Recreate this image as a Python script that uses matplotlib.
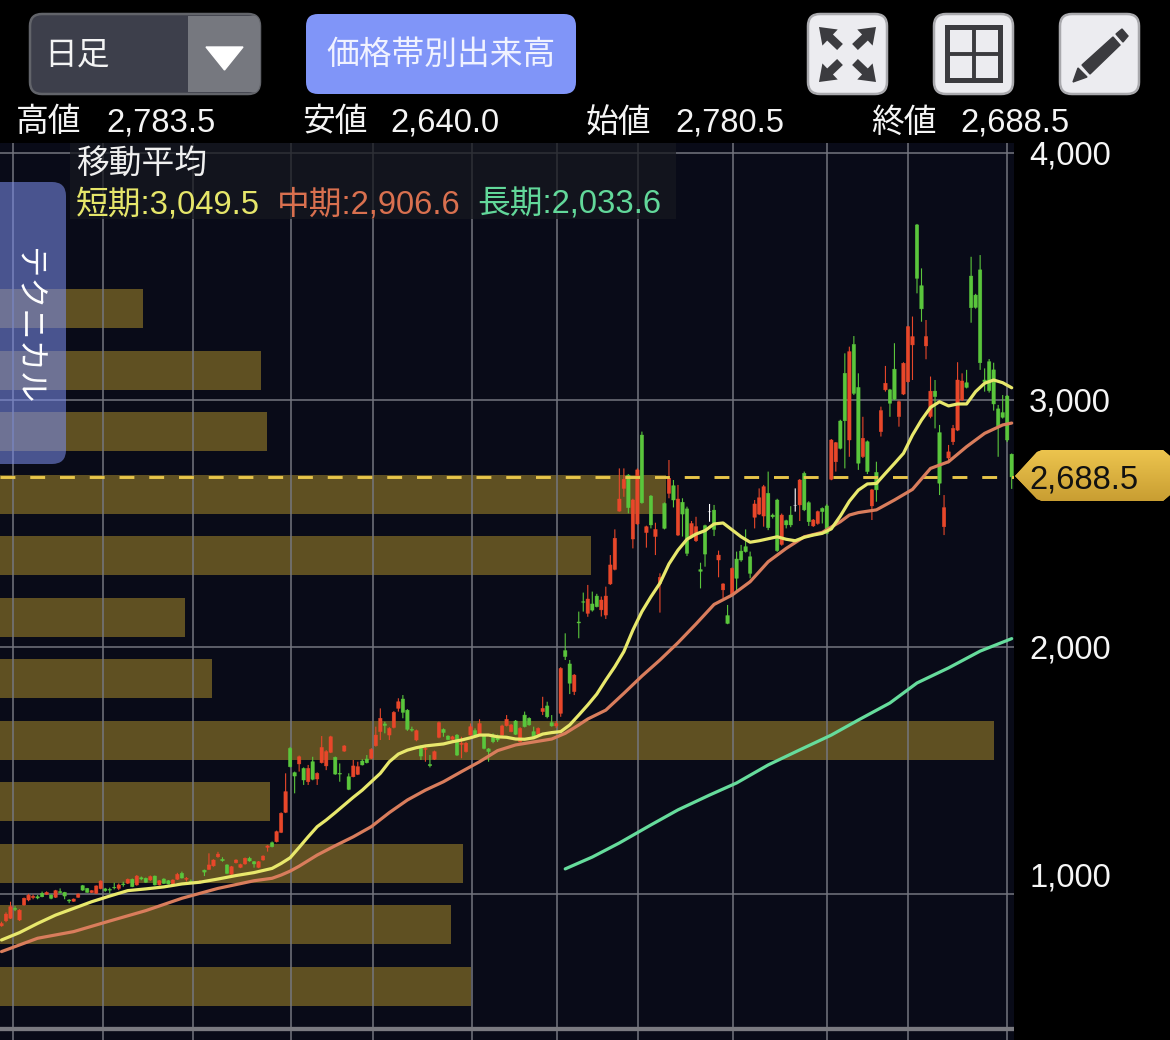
import numpy as np
import matplotlib
matplotlib.use('Agg')
import matplotlib.pyplot as plt
from matplotlib.patches import FancyBboxPatch, Polygon, Rectangle

plt.rcParams['font.family'] = ['Liberation Sans', 'Noto Sans CJK JP', 'DejaVu Sans']

# ---- daily candles ----
opens = [870,891,901,941,894,955,975,985,988,1002,
 998,995,986,1009,1006,975,970,986,1033,1022,
 1005,1002,1021,1020,1018,1026,1022,1040,1043,1059,
 1036,1065,1063,1056,1072,1036,1060,1053,1040,1059,
 1083,1059,1051,1044,1046,1096,1099,1113,1150,1140,
 1117,1079,1126,1107,1121,1144,1130,1107,1137,1188,
 1207,1211,1249,1330,1589,1491,1526,1508,1454,1535,
 1465,1531,1518,1573,1553,1488,1578,1474,1474,1484,
 1538,1546,1549,1600,1657,1688,1643,1674,1751,1789,
 1744,1666,1623,1589,1585,1524,1545,1634,1666,1639,
 1626,1643,1605,1576,1643,1661,1643,1643,1587,1643,
 1639,1643,1681,1657,1700,1616,1724,1711,1657,1647,
 1738,1761,1693,1680,1731,1985,1931,1819,2101,2183,
 2136,2174,2206,2150,2129,2255,2314,2550,2642,2696,
 2437,2498,2858,2463,2611,2447,2257,2581,2622,2653,
 2453,2586,2559,2446,2430,2313,2491,2547,2554,2352,
 2231,2127,2210,2356,2388,2406,2365,2525,2538,2530,
 2622,2534,2595,2415,2511,2534,2574,2575,2703,2584,
 2490,2500,2561,2571,2679,2750,2915,3108,2838,3225,
 3051,2771,2831,2571,2707,2872,3041,3041,3125,2933,
 3024,3074,3223,3709,3463,3219,2933,3036,2868,2487,
 2765,2831,2878,3000,3070,3502,3425,3527,3081,3155,
 3122,2964,2949,3016,2780.5]
closes = [880,918,948,937,934,982,995,990,983,988,
 1006,982,1013,1005,991,971,979,999,1015,1006,
 1013,1032,1052,1013,1015,1024,1036,1037,1059,1029,
 1072,1060,1047,1070,1036,1053,1042,1040,1056,1079,
 1064,1063,1049,1047,1049,1088,1117,1137,1161,1134,
 1083,1110,1137,1119,1144,1133,1121,1130,1153,1194,
 1191,1252,1326,1414,1515,1477,1555,1461,1508,1464,
 1488,1593,1576,1636,1485,1485,1599,1423,1518,1515,
 1522,1531,1585,1643,1711,1682,1670,1735,1778,1735,
 1666,1663,1661,1558,1589,1519,1576,1693,1653,1625,
 1636,1562,1610,1610,1677,1643,1690,1589,1576,1616,
 1623,1680,1707,1684,1646,1670,1677,1684,1636,1670,
 1751,1717,1680,1690,1913,1961,1853,1886,2097,2181,
 2194,2149,2163,2190,2206,2332,2440,2599,2679,2564,
 2595,2717,2584,2487,2494,2476,2282,2480,2683,2595,
 2599,2538,2379,2500,2487,2306,2376,2547,2476,2372,
 2255,2095,2318,2278,2352,2386,2298,2579,2604,2649,
 2483,2527,2390,2534,2494,2494,2574,2676,2555,2507,
 2514,2548,2548,2460,2838,2827,2804,2916,3196,3027,
 2744,2845,2710,2636,2636,2957,3068,2987,3003,2993,
 3149,3297,3257,3493,3369,3257,3036,3014,2663,2564,
 2790,2885,3081,3077,3051,3374,3375,3151,3074,3038,
 2984,2895,2930,2838,2688.5]
highs = [887,925,968,950,938,985,1000,997,995,1009,
 1010,998,1016,1022,1008,978,981,1002,1036,1024,
 1015,1034,1055,1024,1025,1045,1042,1049,1062,1062,
 1076,1070,1066,1074,1074,1056,1063,1056,1059,1085,
 1090,1068,1058,1052,1056,1098,1164,1140,1170,1148,
 1120,1113,1140,1122,1147,1150,1133,1133,1156,1197,
 1212,1256,1330,1488,1595,1495,1560,1512,1522,1555,
 1492,1639,1582,1640,1556,1528,1602,1488,1542,1535,
 1545,1562,1590,1677,1751,1697,1675,1740,1792,1805,
 1748,1677,1665,1603,1595,1562,1580,1698,1670,1642,
 1640,1647,1636,1615,1690,1670,1707,1647,1590,1650,
 1645,1685,1724,1688,1704,1675,1738,1715,1677,1674,
 1798,1778,1724,1700,1918,2055,1947,1890,2143,2220,
 2251,2224,2215,2204,2244,2372,2476,2723,2723,2700,
 2600,2723,2872,2491,2615,2503,2298,2585,2757,2676,
 2656,2602,2568,2510,2527,2341,2495,2579,2575,2390,
 2258,2170,2322,2386,2413,2476,2386,2595,2642,2656,
 2710,2540,2600,2540,2515,2570,2642,2680,2710,2590,
 2518,2552,2565,2578,2842,2830,2920,3189,3216,3259,
 3108,2932,2836,2640,2750,2973,3138,3045,3230,2998,
 3153,3300,3338,3713,3533,3324,3095,3081,2899,2615,
 2818,2899,3153,3108,3122,3580,3430,3587,3128,3166,
 3151,2980,3020,3020,2783.5]
lows = [867,885,898,930,890,952,970,978,978,986,
 995,978,983,1002,978,962,968,984,1012,1004,
 1003,1000,1018,1008,1002,1018,1015,1029,1040,1027,
 1033,1055,1044,1052,1034,1034,1040,1038,1038,1056,
 1062,1050,1044,1040,1042,1072,1097,1110,1146,1130,
 1080,1076,1123,1104,1118,1130,1106,1104,1134,1171,
 1188,1208,1246,1327,1512,1407,1495,1441,1441,1460,
 1441,1528,1501,1570,1482,1454,1575,1420,1472,1481,
 1520,1528,1546,1596,1623,1650,1623,1670,1738,1711,
 1660,1657,1618,1542,1535,1512,1542,1630,1636,1622,
 1622,1558,1549,1572,1640,1640,1640,1585,1535,1610,
 1615,1640,1678,1654,1643,1612,1674,1681,1633,1644,
 1724,1711,1677,1672,1717,1947,1809,1805,2035,2143,
 2122,2143,2160,2123,2113,2251,2310,2548,2608,2541,
 2399,2494,2580,2402,2480,2372,2139,2476,2602,2565,
 2449,2447,2368,2440,2425,2237,2325,2507,2449,2282,
 2197,2092,2206,2230,2345,2382,2278,2480,2534,2487,
 2473,2520,2385,2410,2480,2485,2548,2510,2550,2490,
 2486,2495,2500,2456,2675,2710,2800,2723,2770,3020,
 2717,2765,2700,2514,2588,2852,3034,2932,3000,2892,
 3020,3070,3081,3432,3317,3165,2926,2885,2615,2453,
 2744,2818,2874,2996,3047,3313,3370,3122,3034,3030,
 2957,2770,2925,2830,2640]

# ---- moving averages, read at sampled trading days ----
short_days = [0,4,8,12,16,20,24,28,32,36,40,44,48,52,56,60,62,64,66,68,70,72,74,76,78,80,82,84,86,88,
 90,92,94,96,98,100,102,104,106,108,110,112,114,116,118,120,122,124,126,128,130,132,134,136,138,140,
 142,144,146,148,150,152,154,156,158,160,162,164,166,168,170,172,174,176,178,180,182,184,186,188,190,
 192,194,196,198,200,202,204,206,208,210,212,214,216,218,220,222,224]
short_ma = [813,843,880,914,941,968,991,1013,1020,1028,1040,1047,1060,1074,1086,1103,1123,1146,1188,1231,
 1272,1299,1329,1360,1391,1420,1454,1488,1535,1566,1582,1592,1599,1603,1607,1616,1623,1632,1643,1643,
 1636,1634,1627,1626,1632,1647,1653,1657,1684,1724,1765,1809,1866,1920,1981,2068,2143,2203,2258,2336,
 2392,2436,2457,2471,2498,2502,2474,2446,2424,2430,2438,2446,2436,2430,2444,2453,2460,2478,2530,2590,
 2635,2660,2662,2703,2743,2784,2858,2919,2970,2993,2976,2984,2984,3034,3068,3081,3070,3049.5]

mid_days = [0,8,16,24,32,40,48,56,60,62,64,66,70,74,78,82,86,90,94,98,102,106,110,114,118,122,125,128,
 130,134,138,142,146,150,154,158,162,166,170,174,178,182,186,188,190,194,198,202,206,210,214,218,222,224]
mid_ma = [766,820,847,890,932,982,1022,1053,1063,1076,1092,1112,1157,1195,1231,1272,1329,1380,1420,1454,
 1495,1535,1580,1603,1615,1627,1650,1684,1708,1744,1812,1882,1947,2017,2093,2172,2210,2264,2345,2399,
 2446,2464,2507,2534,2544,2555,2595,2638,2723,2750,2811,2865,2899,2906.6]

long_days = [125,131,137,144,150,157,163,170,177,184,190,197,203,210,217,224]
long_ma = [1101,1149,1206,1279,1340,1400,1449,1522,1583,1643,1704,1773,1854,1915,1983,2033.6]

# ---- volume by price ----
band_prices = [3371,3119,2872,2617,2370,2121,1872,1621,1372,1123,876,625]
band_volumes = [143,261,267,666,591,185,212,994,270,463,451,471]
band_height = 158

grid_days = [2.5,22.5,42.4,64.3,82.4,104.3,123.2,141.1,162.2,183,201.1,223]
price_ticks = [4000,3000,2000,1000]
price_labels = ['4,000','3,000','2,000','1,000']
last_price = 2688.5

# ---- pixel helper for layout ----
W, H = 1170, 1040
fig = plt.figure(figsize=(W/100, H/100), dpi=100, facecolor='black')
PLOT_L, PLOT_R, PLOT_T = 0, 1014, 143
rect = [PLOT_L/W, 0, (PLOT_R-PLOT_L)/W, (H-PLOT_T)/H]

ymin = 3000-(H-400)*4.05
ymax = 3000+(400-PLOT_T)*4.05
BG = '#090b18'
GRID = '#74767f'

vol = fig.add_axes(rect, zorder=1, facecolor=BG)
vol.barh(band_prices, band_volumes, height=band_height, color='#5f5022', linewidth=0)
vol.set_xlim(0, PLOT_R-PLOT_L)
vol.set_ylim(ymin, ymax)
vol.axis('off')
vol.add_patch(Rectangle((0,0),1,1,transform=vol.transAxes,color=BG,zorder=0))

ax = fig.add_axes(rect, zorder=2)
ax.patch.set_alpha(0)
n = len(opens)
days = np.arange(n)
step = 1010.2/(n-1)
ax.set_xlim(-1.5/step, (PLOT_R-1.5)/step)
ax.set_ylim(ymin, ymax)
for s in ax.spines.values():
    s.set_visible(False)
ax.set_xticks([]); ax.set_yticks([])

for g in grid_days:
    ax.axvline(g, color=GRID, lw=1.1, zorder=1)
for p in price_ticks:
    ax.axhline(p, color=GRID, lw=1.1, zorder=1)
ax.axhline(3000-(1029-400)*4.05, color='#7a7a80', lw=3.1, zorder=1)

o, c, hi, lo = map(np.array, (opens, closes, highs, lows))
cols = np.where(c > o, '#e8472a', np.where(c < o, '#5ac63c', '#ffffff'))
wicks = ax.vlines(days, lo, hi, colors=cols, lw=0.8, zorder=3)
wicks.set_snap(False)
bars = ax.bar(days, np.abs(c-o), bottom=np.minimum(o, c), width=0.76, color=cols,
              edgecolor=cols, linewidth=0.3, zorder=4)
for b in bars:
    b.set_snap(False)

ax.axhline(last_price, color='#e8c64a', lw=2.1, dashes=(5.1, 5.1), zorder=5)
ax.plot(short_days, short_ma, color='#e8e86c', lw=2.3, zorder=7, solid_capstyle='round')
ax.plot(mid_days, mid_ma, color='#d97d5c', lw=2.3, zorder=6, solid_capstyle='round')
ax.plot(long_days, long_ma, color='#66dc9c', lw=2.3, zorder=6, solid_capstyle='round')

# ---- overlay: interface elements in pixel coordinates ----
ov = fig.add_axes([0,0,1,1], zorder=3)
ov.set_xlim(0, W); ov.set_ylim(H, 0); ov.axis('off')

def rbox(x0, y0, x1, y1, r, **kw):
    p = FancyBboxPatch((x0,y0), x1-x0, y1-y0, boxstyle=f'round,pad=0,rounding_size={r}', **kw)
    ov.add_patch(p)
    return p

FS = 23.6
def txt(x, y, s, color='white', fs=FS, **kw):
    kw.setdefault('va', 'center'); kw.setdefault('ha', 'left')
    return ov.text(x, y+3, s, color=color, fontsize=fs, **kw)

# period selector
drop = rbox(30,14,260,94,12, facecolor='#3d3f4b', edgecolor='#62646a', lw=1.8)
r = Rectangle((188,16),72,76, facecolor='#76787f', edgecolor='none')
ov.add_patch(r); r.set_clip_path(drop)
ov.add_patch(Polygon([(206,47),(243,47),(224.5,70)], color='white'))
txt(44, 53, '日足', color='#f4f4f4')

rbox(306,14,576,94,12, facecolor='#8095f8', edgecolor='none')
txt(441, 52, '価格帯別出来高', color='#f0f2ff', ha='center')

ICON = '#3b3b3f'
for x0 in (808, 934, 1060):
    rbox(x0,14,x0+79,94,12, facecolor='#ececf0', edgecolor='#a9a9ad', lw=1.8)
for tip, tail in (((819,27),(840,47)), ((876,27),(855,47)), ((819,82),(840,62)), ((876,82),(855,62))):
    ov.annotate('', xy=tip, xytext=tail, arrowprops=dict(width=6, headwidth=16, headlength=11,
                shrink=0, color=ICON, lw=0))
ov.add_patch(Rectangle((947,27),53,53, facecolor='none', edgecolor=ICON, lw=3.6))
ov.plot([973.5,973.5],[27,80], color=ICON, lw=2.8, solid_capstyle='butt')
ov.plot([947,1000],[53.5,53.5], color=ICON, lw=2.8, solid_capstyle='butt')
ov.add_patch(Polygon([(1073,82),(1078,68),(1087,77)], color=ICON))
ov.add_patch(Polygon([(1082,65),(1113,37),(1120,45),(1090,74)], color=ICON))
ov.add_patch(Polygon([(1116,34),(1122,29),(1128,36),(1123,42)], color=ICON))

# OHLC row
for xl, lab, xv, val in ((16,'高値',106,'2,783.5'), (302,'安値',390,'2,640.0'),
                         (586,'始値',675,'2,780.5'), (871,'終値',960,'2,688.5')):
    txt(xl, 120, lab, color='#f4f4f4')
    txt(xv, 120, val, color='#f4f4f4')

# moving-average legend
ov.add_patch(Rectangle((70,143),606,76, facecolor='#16181f', edgecolor='none', alpha=0.75))
txt(76, 162, '移動平均', color='#f0f0f0')
txt(76, 202, '短期:3,049.5', color='#e6e66a')
txt(277, 202, '中期:2,906.6', color='#d9704f')
txt(477, 202, '長期:2,033.6', color='#62d89a')

# technical tab
rbox(-30,182,66,464,14, facecolor='#7b8deb', edgecolor='none', alpha=0.57)
txt(27, 323, 'テクニカル', rotation=-90, ha='center', color='white', fs=22.5)

# price axis labels
for lab, yy in zip(price_labels, (153,400,647,875)):
    txt(1029, yy, lab, color='#f6f6f6')

# current price tag
tag = Polygon([(1015,476),(1037,452),(1042,450),(1163,450),(1170,456),(1170,495),(1163,501),(1042,501),(1037,499)],
              closed=True, facecolor='#dcae3a', edgecolor='none')
ov.add_patch(tag)
grad = ov.imshow(np.linspace(0,1,64).reshape(-1,1), extent=(1015,1170,501,450), aspect='auto',
                 cmap=matplotlib.colors.LinearSegmentedColormap.from_list('g',['#ecc44e','#c99e32']), zorder=2)
grad.set_clip_path(tag)
ov.set_xlim(0, W); ov.set_ylim(H, 0)
txt(1029, 477, '2,688.5', color='#111111', zorder=3)

fig.savefig('out.png', dpi=100, facecolor='black')
